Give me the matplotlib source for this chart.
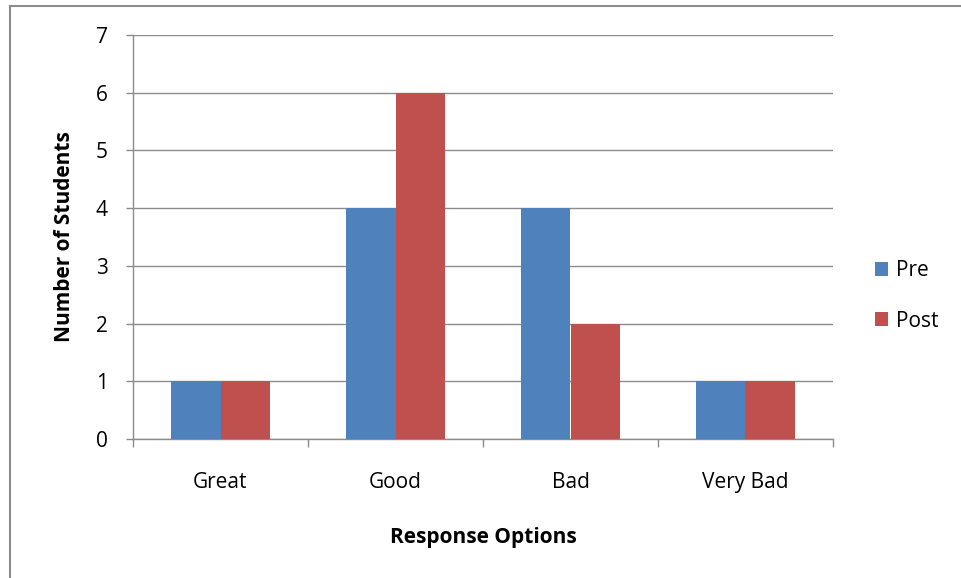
import matplotlib
matplotlib.use("Agg")
import matplotlib.pyplot as plt
from matplotlib.lines import Line2D
from matplotlib.patches import Patch
import numpy as np

categories = ["Great", "Good", "Bad", "Very Bad"]
pre = [1, 4, 4, 1]
post = [1, 6, 2, 1]
series_names = ["Pre", "Post"]
yticks = [0, 1, 2, 3, 4, 5, 6, 7]

plt.rcParams['font.family'] = ['Open Sans', 'DejaVu Sans']

fig = plt.figure(figsize=(9.61, 5.78), dpi=100)
ax = fig.add_axes([133/961, 1-439/578, 700/961, 404/578])

x = np.arange(len(categories))
w = 0.283
c_pre = "#4F81BD"
c_post = "#C0504D"
ax.bar(x - w/2, pre, width=w, color=c_pre, zorder=3)
ax.bar(x + w/2, post, width=w, color=c_post, zorder=3)

ax.set_xlim(-0.5, len(categories) - 0.5)
ax.set_ylim(0, 7)
ax.set_yticks(yticks)
ax.yaxis.grid(True, color="#8C8C8C", linewidth=1.0, zorder=0)
ax.set_axisbelow(True)

for s in ["top", "right"]:
    ax.spines[s].set_visible(False)
for s in ["left", "bottom"]:
    ax.spines[s].set_color("#8C8C8C")
    ax.spines[s].set_linewidth(1.0)

ax.set_xticks(x)
ax.set_xticklabels(categories)
ax.set_xticks(np.arange(-0.5, len(categories)), minor=True)
ax.tick_params(axis='x', which='major', length=0, pad=24, labelsize=15, colors="#000000")
ax.tick_params(axis='x', which='minor', length=6, color="#8C8C8C", width=1.0)
ax.tick_params(axis='y', length=5, color="#8C8C8C", width=1.0, pad=13, labelsize=15)

ax.set_ylabel("Number of Students", fontsize=15, fontweight='bold', labelpad=15)
ax.set_xlabel("Response Options", fontsize=15, fontweight='bold', labelpad=24)

handles = [Patch(facecolor=c_pre, edgecolor='none'), Patch(facecolor=c_post, edgecolor='none')]
leg = fig.legend(handles, series_names, loc='center left', bbox_to_anchor=(856/961, 1-296/578),
                 frameon=False, fontsize=15, handlelength=0.65, handleheight=0.65,
                 handletextpad=0.35, labelspacing=1.4)

# frame border (left and top)
fig.add_artist(Line2D([10/961, 10/961], [0, 1-6/578], color="#8C8C8C", linewidth=1.5, transform=fig.transFigure))
fig.add_artist(Line2D([10/961, 1], [1-6/578, 1-6/578], color="#8C8C8C", linewidth=1.5, transform=fig.transFigure))

fig.savefig("out.png", dpi=100)
